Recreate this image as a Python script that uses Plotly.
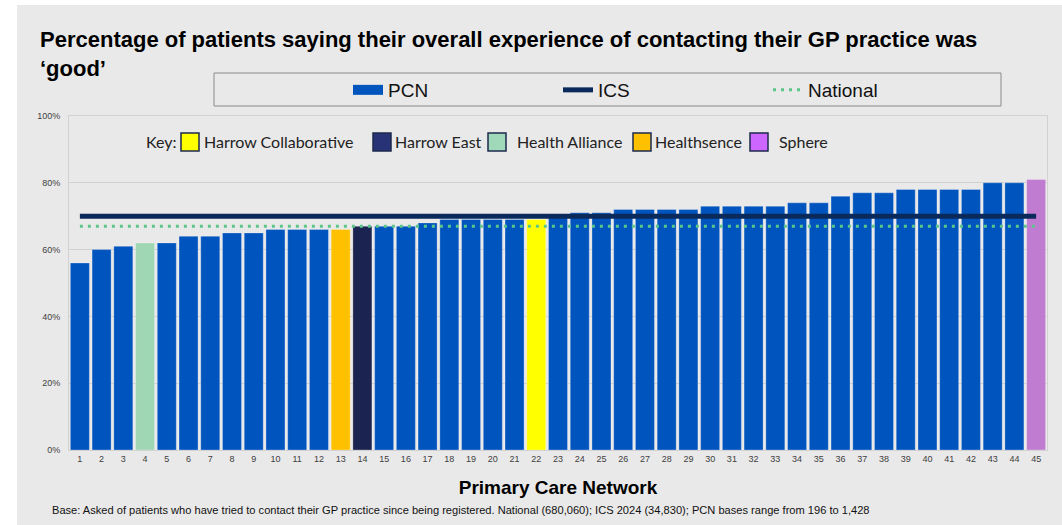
import plotly.graph_objects as go

# ---------------- data ----------------
pcn_labels = [str(i) for i in range(1, 46)]
pcn_values = [56, 60, 61, 62, 62, 64, 64, 65, 65, 66,
              66, 66, 66, 67, 67, 67, 68, 69, 69, 69,
              69, 69, 70, 71, 71, 72, 72, 72, 72, 73,
              73, 73, 73, 74, 74, 76, 77, 77, 78, 78,
              78, 78, 80, 80, 81]
ics_value = 70
national_value = 67

key_names = ["Harrow Collaborative", "Harrow East", "Health Alliance", "Healthsence", "Sphere"]
key_pcn = ["22", "14", "4", "13", "45"]
key_bar_colors = ["#FFFF00", "#1B2350", "#9FD6B4", "#FFC000", "#C07CD0"]
key_box_colors = ["#FFFF00", "#283377", "#A0D9B9", "#FFC000", "#CC66FF"]

y_tick_values = [0, 20, 40, 60, 80, 100]
y_tick_labels = ["0%", "20%", "40%", "60%", "80%", "100%"]

title_text = ("Percentage of patients saying their overall experience of contacting their GP practice was"
              "<br>‘good’")
x_title = "Primary Care Network"
footnote = ("Base: Asked of patients who have tried to contact their GP practice since being registered. "
            "National (680,060); ICS 2024 (34,830); PCN bases range from 196 to 1,428")

# ---------------- styles ----------------
PCN_BLUE = "#0054BE"
ICS_NAVY = "#0A2A5C"
NAT_GREEN = "#5CC68A"
BG = "#E9E9E9"
FONT = "Liberation Sans, Arial, sans-serif"
KEY_FONT = "Lato, sans-serif"

W, H = 1062, 525
ML, MR, MT, MB = 69, 15, 116, 75
PW, PH = W - ML - MR, H - MT - MB


def px_x(p):
    return (p - ML) / PW


def px_y(p):
    return (H - MB - p) / PH


colour_of = dict(zip(key_pcn, key_bar_colors))
bar_colors = [colour_of.get(lab, PCN_BLUE) for lab in pcn_labels]

fig = go.Figure()
fig.add_trace(go.Bar(
    x=pcn_labels, y=pcn_values, marker_color=bar_colors,
    marker_line=dict(color="rgba(255,255,255,0.28)", width=1),
    showlegend=False, name="PCN", hovertemplate="PCN %{x}: %{y}%<extra></extra>"))
# legend swatch for PCN (wide flat rectangle as in the reference)
fig.add_trace(go.Scatter(x=[None], y=[None], mode="lines", name="PCN",
                         line=dict(color=PCN_BLUE, width=10)))
fig.add_trace(go.Scatter(x=[pcn_labels[0], pcn_labels[-1]], y=[ics_value, ics_value],
                         mode="lines", name="ICS", line=dict(color=ICS_NAVY, width=5)))
fig.add_trace(go.Scatter(x=[pcn_labels[0], pcn_labels[-1]], y=[national_value, national_value],
                         mode="lines", name="National",
                         line=dict(color=NAT_GREEN, width=3, dash="3px,5px")))

shapes = [
    # grey slide background
    dict(type="rect", xref="paper", yref="paper", layer="below",
         x0=px_x(17), x1=px_x(W), y0=px_y(H), y1=px_y(5),
         fillcolor=BG, line=dict(width=0)),
    # legend frame
    dict(type="rect", xref="paper", yref="paper",
         x0=px_x(214), x1=px_x(1001), y0=px_y(106), y1=px_y(73),
         fillcolor="rgba(0,0,0,0)", line=dict(color="#8A8A8A", width=1)),
]

annotations = [
    dict(text=footnote, xref="paper", yref="paper", x=px_x(50), y=px_y(510),
         xanchor="left", yanchor="middle", showarrow=False,
         font=dict(family=FONT, size=11.1, color="#111111")),
    dict(text="Key:", xref="paper", yref="paper", x=px_x(144), y=px_y(142),
         xanchor="left", yanchor="middle", showarrow=False,
         font=dict(family=KEY_FONT, size=16, color="#222222")),
]

key_box_x = [181, 373, 488, 633, 750]
key_text_x = [202, 393, 515, 653, 777]
for name, col, bx, tx in zip(key_names, key_box_colors, key_box_x, key_text_x):
    shapes.append(dict(type="rect", xref="paper", yref="paper",
                       x0=px_x(bx), x1=px_x(bx + 18), y0=px_y(151), y1=px_y(133),
                       fillcolor=col, line=dict(color="#1C2A4E", width=1.5)))
    annotations.append(dict(text=name, xref="paper", yref="paper", x=px_x(tx), y=px_y(142),
                            xanchor="left", yanchor="middle", showarrow=False,
                            font=dict(family=KEY_FONT, size=16, color="#222222")))

fig.update_layout(
    width=W, height=H,
    margin=dict(l=ML, r=MR, t=MT, b=MB, pad=0),
    paper_bgcolor="white", plot_bgcolor=BG,
    font=dict(family=FONT, color="#333333"),
    title=dict(text=title_text, x=40 / W, xref="container", xanchor="left",
               y=1 - 47 / H, yref="container", yanchor="top",
               font=dict(family=FONT, size=22, color="#000000", weight="bold")),
    bargap=0.125,
    showlegend=True,
    legend=dict(orientation="h", x=px_x(348), y=px_y(90), xanchor="left", yanchor="middle",
                bgcolor="rgba(0,0,0,0)", borderwidth=0,
                entrywidth=165, entrywidthmode="pixels",
                font=dict(family=FONT, size=19, color="#111111")),
    shapes=shapes, annotations=annotations,
)
fig.update_xaxes(type="category", range=[-0.5, 44.5],
                 showline=True, linecolor="#D2D2D2", linewidth=1, mirror=True,
                 showgrid=False, ticks="",
                 tickfont=dict(family=FONT, size=9, color="#404040"),
                 title=dict(text=x_title, standoff=17,
                            font=dict(family=FONT, size=19, color="#000000", weight="bold")))
fig.update_yaxes(range=[0, 100], tickmode="array", tickvals=y_tick_values, ticktext=y_tick_labels,
                 showline=True, linecolor="#D2D2D2", linewidth=1, mirror=True,
                 showgrid=True, gridcolor="#D0D0D0", gridwidth=1, zeroline=False,
                 ticks="", ticklabelstandoff=6,
                 tickfont=dict(family=FONT, size=9, color="#404040"))

fig.write_html("out.html")
